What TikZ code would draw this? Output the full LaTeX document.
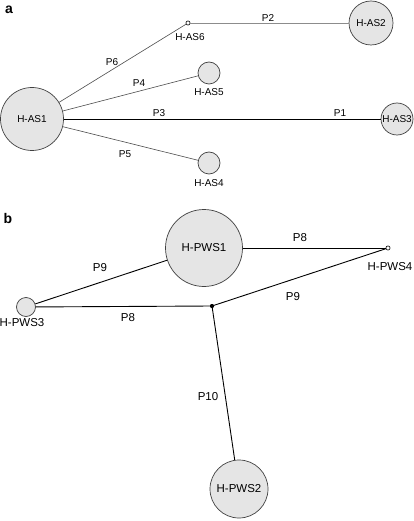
\documentclass[tikz,border=0pt]{standalone}
\usepackage{fontspec}
\setmainfont{Liberation Sans}
\begin{document}
\begin{tikzpicture}[x=1pt,y=-1pt,
  hap/.style={circle,draw=black!75,fill=black!10,line width=0.7pt,inner sep=0pt},
  mv/.style={circle,draw=black,fill=white,line width=0.6pt,inner sep=0pt,minimum size=4.2pt},
  jn/.style={circle,fill=black,inner sep=0pt,minimum size=4pt},
  ta/.style={font=\fontsize{10}{12}\selectfont,inner sep=0pt},
  tb/.style={font=\fontsize{11.5}{13}\selectfont,inner sep=0pt},
  panel/.style={font=\fontsize{14}{16}\selectfont\bfseries,inner sep=0pt},
  la/.style={line width=0.6pt,draw=black!70},
  lg/.style={line width=0.9pt,draw=black!45},
  lk/.style={line width=0.9pt,draw=black},
  lb/.style={line width=0.9pt,draw=black}]
\useasboundingbox (0,0) rectangle (413,521);
% panel a
\node[panel] (pa) at (9,10) {a};
\node[hap,minimum size=63pt] (as1) at (32,119) {};
\node[ta] (as1t) at (as1) {H-AS1};
\node[hap,minimum size=44pt] (as2) at (371,23) {};
\node[ta] (as2t) at (as2) {H-AS2};
\node[hap,minimum size=32pt] (as3) at (397,119) {};
\node[ta] (as3t) at (as3) {H-AS3};
\node[hap,minimum size=22pt] (as5) at (209,73) {};
\node[ta] (as5t) at (209,92) {H-AS5};
\node[hap,minimum size=22pt] (as4) at (209,163) {};
\node[ta] (as4t) at (209,183) {H-AS4};
\node[mv] (as6) at (188,23) {};
\node[ta] (as6t) at (190,37) {H-AS6};
\draw[lg] (as6) -- (as2);
\draw[la] (as1) -- (as6);
\draw[la] (as1) -- (as5);
\draw[la] (as1) -- (as4);
\draw[lk] (as1) -- (as3);
\node[ta] (p2) at (268,18) {P2};
\node[ta] (p6) at (112,62) {P6};
\node[ta] (p4) at (139,83) {P4};
\node[ta] (p3) at (159,113) {P3};
\node[ta] (p1) at (340,113) {P1};
\node[ta] (p5) at (125,154) {P5};
% panel b
\node[panel] (pb) at (8,218) {b};
\node[hap,minimum size=77pt] (pws1) at (204,248) {};
\node[tb] (pws1t) at (pws1) {H-PWS1};
\node[hap,minimum size=58pt] (pws2) at (239,489) {};
\node[tb] (pws2t) at (pws2) {H-PWS2};
\node[hap,minimum size=19pt] (pws3) at (26,307) {};
\node[tb] (pws3t) at (22,323) {H-PWS3};
\node[mv] (pws4) at (388,248) {};
\node[tb] (pws4t) at (390,267) {H-PWS4};
\draw[lb] (pws1) -- (pws4);
\draw[lb] (pws3) -- (pws1);
\node[jn] (j) at (212,306) {};
\draw[lb] (pws3) -- (j.center);
\draw[lb] (j.center) -- (pws4);
\draw[lb] (j.center) -- (pws2);
\node[jn] at (j) {};
\node[tb] (q8a) at (300,238) {P8};
\node[tb] (q9a) at (100,268) {P9};
\node[tb] (q8b) at (128,318) {P8};
\node[tb] (q9b) at (293,297) {P9};
\node[tb] (q10) at (208,397) {P10};
\end{tikzpicture}
\end{document}
